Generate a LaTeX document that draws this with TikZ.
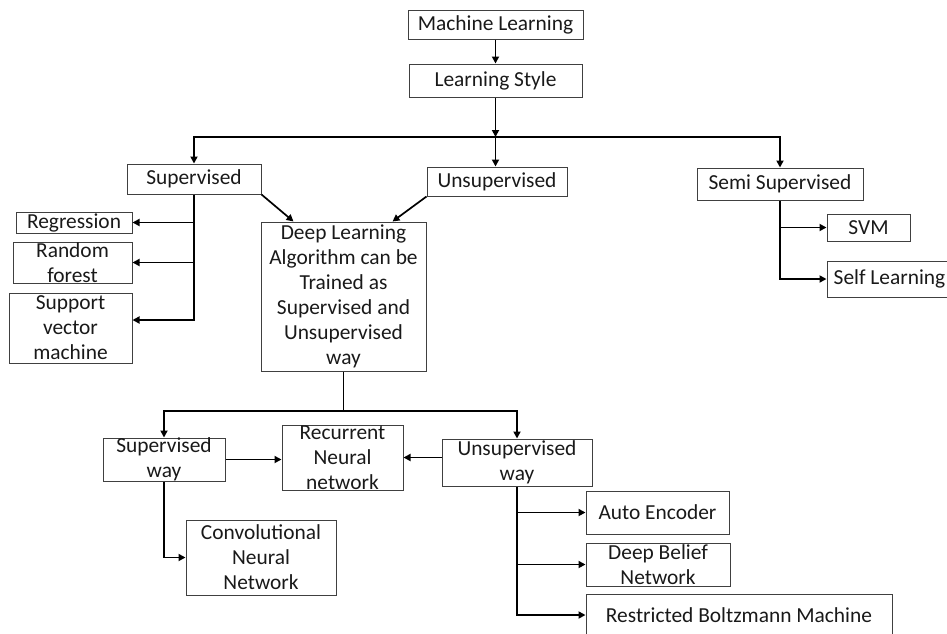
\documentclass[tikz,border=0pt]{standalone}
\usepackage{fontspec}
\setmainfont{Carlito}
\usepackage{tikz}
\usetikzlibrary{calc,arrows.meta}

\tikzset{
  box/.style={draw=black!75, line width=1pt, inner sep=0pt},
  txt/.style={font=\fontsize{21.4}{25}\selectfont, align=center, inner sep=0pt, text=black!90},
  conn/.style={-{Triangle[length=7pt,width=7pt]}, line width=1.7pt},
  plain/.style={line width=1.7pt}
}

\begin{document}
\begin{tikzpicture}[x=1pt,y=-1pt]
\useasboundingbox (0,0) rectangle (947,633);

% top of the tree
\node[box,minimum width=175,minimum height=29,label={[txt]center:Machine Learning}] (ml) at (495.5,24.5) {};
\node[box,minimum width=173,minimum height=33,label={[txt]center:Learning Style}] (ls) at (495.5,80.5) {};
\coordinate (hub1) at (495.5,137);

\node[box,minimum width=134,minimum height=30,label={[txt]center:Supervised}] (sup) at (194,179) {};
\node[box,minimum width=140,minimum height=29,label={[txt]center:Unsupervised}] (uns) at (497,181.5) {};
\node[box,minimum width=166,minimum height=32,label={[txt]center:Semi Supervised}] (semi) at (780,184) {};

% supervised side
\node[box,minimum width=116,minimum height=21,label={[txt]center:Regression}] (reg) at (74,222.5) {};
\node[box,minimum width=119,minimum height=41,label={[txt]center:Random\\forest}] (rf) at (72.5,262.5) {};
\node[box,minimum width=123,minimum height=70,label={[txt]center:Support\\vector\\machine}] (svmach) at (70.5,328) {};

% semi supervised side
\node[box,minimum width=83,minimum height=27,label={[txt]center:SVM}] (svm) at (868.5,227.5) {};
\node[box,minimum width=125,minimum height=36,label={[txt]center:Self Learning}] (self) at (889.5,279) {};

% deep learning
\node[box,minimum width=165,minimum height=149,label={[txt]center:Deep Learning\\Algorithm can be\\Trained as\\Supervised and\\Unsupervised\\way}] (dl) at (343.5,296.5) {};
\coordinate (hub2) at (343.5,411);

\node[box,minimum width=122,minimum height=43,label={[txt]center:Supervised\\way}] (sw) at (164,459.5) {};
\node[box,minimum width=121,minimum height=65,label={[txt]center:Recurrent\\Neural\\network}] (rnn) at (342.5,457.5) {};
\node[box,minimum width=150,minimum height=47,label={[txt]center:Unsupervised\\way}] (uw) at (517,462.5) {};
\node[box,minimum width=150,minimum height=75,label={[txt]center:Convolutional\\Neural\\Network}] (cnn) at (261,557.5) {};

\node[box,minimum width=143,minimum height=43,label={[txt]center:Auto Encoder}] (ae) at (657.5,512.5) {};
\node[box,minimum width=144,minimum height=43,label={[txt]center:Deep Belief\\Network}] (dbn) at (658,564.5) {};
\node[box,minimum width=306,minimum height=42,label={[txt]center:Restricted Boltzmann Machine}] (rbm) at (739,615) {};

% connectors
\draw[conn] (ml) -- (ls);
\draw[conn] (ls) -- (hub1);
\draw[conn] (hub1) -- (hub1 |- uns.north);
\draw[conn] (hub1) -| (sup);
\draw[conn] (hub1) -| (semi);

\draw[conn] (sup.south east) -- ([xshift=33pt]dl.north west);
\draw[conn] (uns.south west) -- ([xshift=-34pt]dl.north east);

\draw[conn] (sup) |- ([yshift=8pt]svmach.east);
\draw[conn] (sup.south |- reg.east) -- (reg);
\draw[conn] (sup.south |- rf.east) -- (rf);

\draw[conn] (semi) |- (self);
\draw[conn] (semi.south |- svm.west) -- (svm);

\draw[plain] (dl) -- (hub2);
\draw[conn] (hub2) -| (sw);
\draw[conn] (hub2) -| (uw);
\draw[conn] (sw.east) -- (sw.east -| rnn.west);
\draw[conn] (uw.west |- rnn.east) -- (rnn.east);
\draw[conn] (sw) |- (cnn);

\draw[conn] (uw) |- (rbm);
\draw[conn] (uw.south |- ae.west) -- (ae);
\draw[conn] (uw.south |- dbn.west) -- (dbn);
\end{tikzpicture}
\end{document}
